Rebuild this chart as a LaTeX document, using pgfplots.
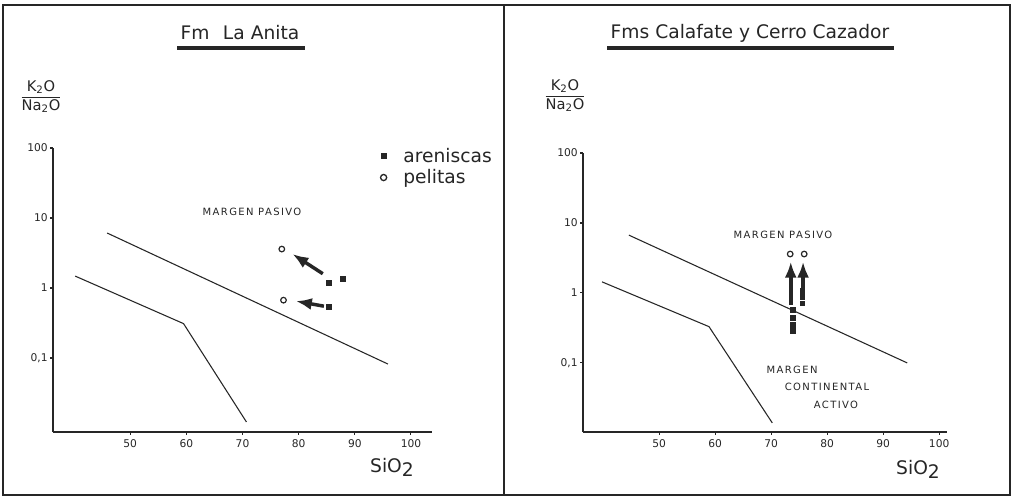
\documentclass[border=0pt]{standalone}
\usepackage{pgfplots}
\pgfplotsset{compat=1.18}
\usepackage{fontspec}
\setmainfont{DejaVu Sans}
\newfontfamily\spaced[LetterSpace=14]{DejaVu Sans}
\usetikzlibrary{arrows.meta}
\definecolor{ink}{gray}{0.15}
\tikzset{
  bound/.style={ink, line width=0.8pt},
  arr/.style={ink, line width=2.6pt, -{Latex[length=12pt,width=9pt]}},
}
\newcommand{\kna}{{\setlength{\arrayrulewidth}{0.7pt}\renewcommand{\arraystretch}{1.05}%
  \begin{tabular}{@{}c@{}}K\textsubscript{2}O\\\hline Na\textsubscript{2}O\end{tabular}}}
\begin{document}
\begin{tikzpicture}
\path[use as bounding box] (0pt,0pt) rectangle (760.5pt,372.75pt);
\fill[white] (0pt,0pt) rectangle (760.5pt,372.75pt);
% frames
\draw[ink, line width=1.4pt] (2.25pt,1.5pt) rectangle (757.5pt,369pt);
\draw[ink, line width=1.4pt] (378pt,1.5pt) -- (378pt,369pt);

% ---------- left panel ----------
\begin{axis}[at={(39.75pt,48.75pt)}, anchor=south west,
  scale only axis, clip=false,
  width=284.25pt, height=213pt,
  xmin=36.25, xmax=103.75, ymin=0.00877, ymax=100,
  ymode=log, yminorticks=false,
  axis x line*=bottom, axis y line*=left,
  axis line style={ink, line width=1pt, -},
  xtick={50,60,70,80,90,100}, xticklabels={50,60,70,80,90,100},
  ytick={0.1,1,10,100}, yticklabels={{0,1},1,10,100},
  tick style={ink, line width=0.8pt}, major tick length=2pt, tick align=outside,
  ticklabel style={font=\fontsize{8}{9}\selectfont, text=ink},
  yticklabel style={xshift=1.5pt},
  legend style={at={(0.853,1.02)}, anchor=north west, draw=none, fill=none,
    font=\fontsize{14}{17}\selectfont, text=ink},
  legend cell align=left]
\addlegendimage{ink, only marks, mark=square*, mark size=2pt}\addlegendentry{\hspace{0.75em}areniscas}
\addlegendimage{ink, only marks, mark=o, mark size=2.3pt, mark options={line width=1pt}}\addlegendentry{\hspace{0.75em}pelitas}
\addplot[bound, no marks, forget plot] coordinates {(45.9,6.1) (95.9,0.082)};
\addplot[bound, no marks, forget plot] coordinates {(40.2,1.48) (59.5,0.31) (70.7,0.0122)};
\addplot[arr, no marks, forget plot] coordinates {(84.3,1.6) (78.9,3.06)};
\addplot[arr, no marks, forget plot] coordinates {(84.5,0.55) (79.5,0.65)};
\addplot[ink, only marks, mark=square*, mark size=2pt, forget plot] coordinates {(85.4,1.18) (87.9,1.35) (85.4,0.54)};
\addplot[ink, only marks, mark=o, mark size=2.1pt, mark options={line width=0.9pt}, forget plot] coordinates {(77.0,3.6) (77.3,0.67)};
\end{axis}

% ---------- right panel ----------
\begin{axis}[at={(437.25pt,48.75pt)}, anchor=south west,
  scale only axis, clip=false,
  width=273pt, height=209.25pt,
  xmin=36.4, xmax=101.4, ymin=0.0103, ymax=100,
  ymode=log, yminorticks=false,
  axis x line*=bottom, axis y line*=left,
  axis line style={ink, line width=1pt, -},
  xtick={50,60,70,80,90,100}, xticklabels={50,60,70,80,90,100},
  ytick={0.1,1,10,100}, yticklabels={{0,1},1,10,100},
  tick style={ink, line width=0.8pt}, major tick length=2pt, tick align=outside,
  ticklabel style={font=\fontsize{8}{9}\selectfont, text=ink},
  yticklabel style={xshift=1.5pt}]
\addplot[bound, no marks] coordinates {(44.6,6.7) (94.3,0.1)};
\addplot[bound, no marks] coordinates {(39.8,1.44) (58.9,0.33) (70.2,0.0139)};
\addplot[ink, only marks, mark=square*, mark size=1.8pt] coordinates {(73.9,0.57) (73.9,0.44) (73.9,0.35) (73.9,0.29)};
\addplot[ink, only marks, mark=square*, mark size=1.6pt] coordinates {(75.6,1.07) (75.6,0.88) (75.6,0.72)};
\addplot[arr, no marks] coordinates {(73.5,0.67) (73.5,2.8)};
\addplot[arr, no marks] coordinates {(75.7,0.80) (75.7,2.8)};
\addplot[ink, only marks, mark=o, mark size=2.1pt, mark options={line width=0.9pt}] coordinates {(73.4,3.6) (75.9,3.6)};
\end{axis}

% titles
\node[text=ink, font=\fontsize{14}{16}\selectfont] at (180pt,348pt) {Fm\hspace{0.4em} La Anita};
\draw[ink, line width=2.4pt] (132.75pt,336.75pt) -- (228.75pt,336.75pt);
\node[text=ink, font=\fontsize{14}{16}\selectfont] at (562.5pt,348pt) {Fms Calafate y Cerro Cazador};
\draw[ink, line width=2.4pt] (455.25pt,336.75pt) -- (670.5pt,336.75pt);

% y labels
\node[text=ink, font=\fontsize{11}{13}\selectfont, inner sep=0pt] at (30.75pt,300pt) {\kna};
\node[text=ink, font=\fontsize{11}{13}\selectfont, inner sep=0pt] at (423.75pt,300.75pt) {\kna};

% x labels
\node[text=ink, font=\fontsize{14}{16}\selectfont] at (294pt,22.5pt) {SiO\raisebox{-3pt}{2}};
\node[text=ink, font=\fontsize{14}{16}\selectfont] at (688.5pt,21pt) {SiO\raisebox{-3pt}{2}};

% region labels
\node[text=ink, font=\spaced\fontsize{7.5}{9}\selectfont] at (189pt,213.75pt) {MARGEN PASIVO};
\node[text=ink, font=\spaced\fontsize{7.5}{9}\selectfont] at (587.25pt,196.5pt) {MARGEN PASIVO};
\node[text=ink, font=\spaced\fontsize{7.5}{9}\selectfont] at (594pt,95.25pt) {MARGEN};
\node[text=ink, font=\spaced\fontsize{7.5}{9}\selectfont] at (620.25pt,82.5pt) {CONTINENTAL};
\node[text=ink, font=\spaced\fontsize{7.5}{9}\selectfont] at (627pt,69pt) {ACTIVO};
\end{tikzpicture}
\end{document}
